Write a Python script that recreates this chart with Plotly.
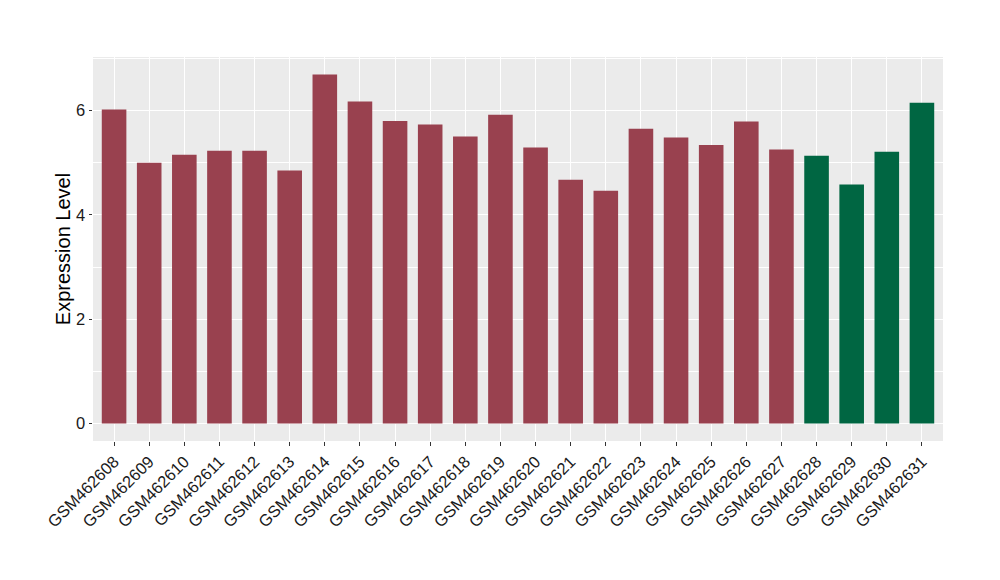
import plotly.graph_objects as go

samples = ["GSM462608", "GSM462609", "GSM462610", "GSM462611", "GSM462612", "GSM462613",
           "GSM462614", "GSM462615", "GSM462616", "GSM462617", "GSM462618", "GSM462619",
           "GSM462620", "GSM462621", "GSM462622", "GSM462623", "GSM462624", "GSM462625",
           "GSM462626", "GSM462627", "GSM462628", "GSM462629", "GSM462630", "GSM462631"]
values = [6.02, 5.00, 5.15, 5.23, 5.23, 4.85, 6.69, 6.17, 5.80, 5.73, 5.50, 5.92,
          5.29, 4.67, 4.46, 5.65, 5.48, 5.34, 5.79, 5.25, 5.13, 4.58, 5.21, 6.15]
groups = ["A"] * 20 + ["B"] * 4
group_colors = {"A": "#99414F", "B": "#006642"}

colors = [group_colors[g] for g in groups]

fig = go.Figure()
fig.add_trace(go.Bar(x=samples, y=values, marker=dict(color=colors, line=dict(width=0)),
                     width=0.7, showlegend=False))

vmax = max(values)
fig.update_layout(
    width=1000, height=580,
    margin=dict(l=93, r=57, t=57, b=139, autoexpand=False),
    paper_bgcolor="white",
    plot_bgcolor="#EBEBEB",
    font=dict(family="Liberation Sans, Arial, sans-serif", color="#1A1A1A"),
    bargap=0.3,
)
fig.update_xaxes(
    showgrid=True, gridcolor="white", gridwidth=1.1,
    tickangle=-45, tickfont=dict(size=16.5, color="#1A1A1A"),
    ticks="outside", ticklen=3.5, tickcolor="#333333", tickwidth=1,
    range=[-0.6, len(samples) - 0.4], zeroline=False, showline=False,
    automargin=False,
)
fig.update_yaxes(
    title=dict(text="Expression Level", font=dict(size=20, color="black"), standoff=0),
    range=[-0.05 * vmax, vmax * 1.05],
    tickvals=[0, 2, 4, 6], ticktext=["0", "2", "4", "6"],
    tickfont=dict(size=16.5, color="#1A1A1A"),
    ticks="outside", ticklen=3.5, tickcolor="#333333", tickwidth=1,
    showgrid=True, gridcolor="white", gridwidth=1.1,
    minor=dict(tickvals=[1, 3, 5, 7], showgrid=True, gridcolor="white", gridwidth=0.5, ticks=""),
    zeroline=False, showline=False, automargin=False,
)

fig.write_html("out.html", config={"displayModeBar": False},
               post_script="document.body.style.margin='0';document.body.style.overflow='hidden';")
